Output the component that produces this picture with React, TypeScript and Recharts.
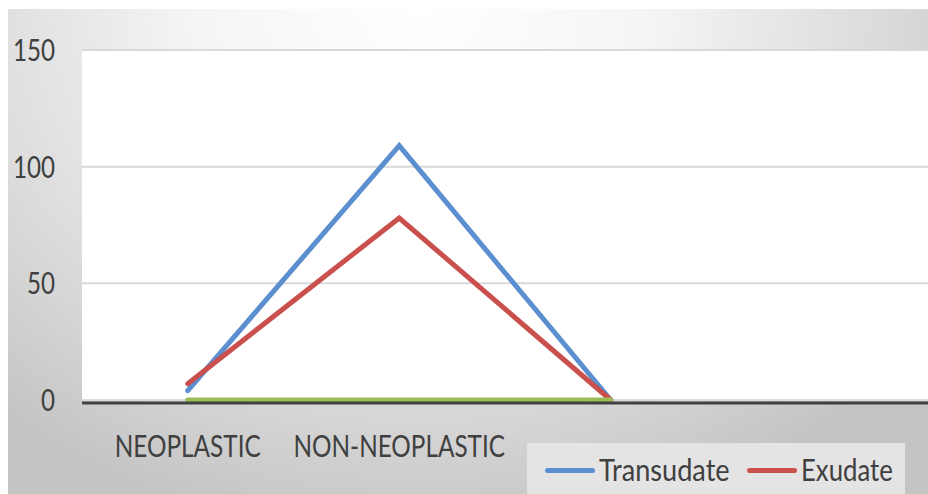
import { LineChart, Line, XAxis, YAxis, CartesianGrid, Legend } from 'recharts';

const categories = ['NEOPLASTIC', 'NON-NEOPLASTIC', ' ', '  '];
const transudate = [4, 109, 0, null];
const exudate = [7, 78, 0, null];
const series3 = [0, 0, 0, null];
const yTicks = [0, 50, 100, 150];

const data = categories.map((name, i) => ({
  name,
  Transudate: transudate[i],
  Exudate: exudate[i],
  Series3: series3[i],
}));

const FONT = 'Lato, "Open Sans", sans-serif';
const TEXT = '#404040';

const YTick = ({ x, y, payload }: any) => (
  <g transform={`translate(${x},${y})`}>
    <text
      transform="scale(0.78,1)"
      textAnchor="end"
      dy={11}
      fontSize={31}
      fontFamily={FONT}
      fill={TEXT}
    >
      {payload.value}
    </text>
  </g>
);

const XTick = ({ x, y, payload }: any) => (
  <g transform={`translate(${x},${y})`}>
    <text
      transform="scale(0.785,1)"
      textAnchor="middle"
      dy={49}
      fontSize={31}
      fontFamily={FONT}
      fill={TEXT}
    >
      {payload.value}
    </text>
  </g>
);

const legendItems = [
  { name: 'Transudate', color: '#5b8fcf', left: 18, scale: 0.875 },
  { name: 'Exudate', color: '#c9504d', left: 220, scale: 0.83 },
];

const LegendBox = () => (
  <div style={{ position: 'relative', width: 378, height: 51, background: '#e4e4e4' }}>
    {legendItems.map((item) => (
      <div key={item.name}>
        <div
          style={{
            position: 'absolute',
            left: item.left,
            top: 25,
            width: 50,
            height: 5,
            borderRadius: 3,
            background: item.color,
          }}
        />
        <div
          style={{
            position: 'absolute',
            left: item.left + 54,
            top: 7,
            fontFamily: FONT,
            fontSize: 31,
            lineHeight: '38px',
            color: TEXT,
            whiteSpace: 'nowrap',
            transform: `scale(${item.scale},1)`,
            transformOrigin: 'left center',
          }}
        >
          {item.name}
        </div>
      </div>
    ))}
  </div>
);

export default function App() {
  return (
    <div style={{ position: 'absolute', left: 0, top: 0, width: 928, height: 494, background: '#fff', overflow: 'hidden' }}>
      <div
        style={{
          position: 'absolute',
          left: 8,
          top: 9,
          width: 920,
          height: 485,
          background: 'radial-gradient(ellipse 70% 110% at 45% 0%, #ffffff 0%, #f5f5f5 35%, #dcdcdc 70%, #c4c4c4 100%)',
        }}
      />
      <div style={{ position: 'absolute', left: 0, top: 0 }}>
        <LineChart width={928} height={494} data={data} margin={{ top: 50, right: 0, bottom: 64, left: 0 }}>
          <CartesianGrid horizontal vertical={false} fill="#ffffff" stroke="#d9d9d9" strokeWidth={2} />
          <XAxis
            dataKey="name"
            padding={{ left: 105.75, right: 105.75 }}
            tickLine={false}
            axisLine={{ stroke: '#404040', strokeWidth: 3, transform: 'translate(0,3)' }}
            tick={<XTick />}
            interval={0}
            height={30}
          />
          <YAxis
            domain={[0, 150]}
            ticks={yTicks}
            width={82}
            axisLine={false}
            tickLine={false}
            tickSize={0}
            tickMargin={27}
            tick={<YTick />}
          />
          <Legend
            layout="horizontal"
            verticalAlign="middle"
            align="center"
            content={<LegendBox />}
            wrapperStyle={{ left: 527, top: 443, width: 378, height: 51 }}
          />
          <Line
            dataKey="Transudate"
            stroke="#5b8fcf"
            strokeWidth={5}
            strokeLinecap="round"
            dot={false}
            isAnimationActive={false}
          />
          <Line
            dataKey="Exudate"
            stroke="#c9504d"
            strokeWidth={5}
            strokeLinecap="round"
            dot={false}
            isAnimationActive={false}
          />
          <Line
            dataKey="Series3"
            stroke="#9bbb59"
            strokeWidth={5}
            strokeLinecap="round"
            dot={false}
            legendType="none"
            isAnimationActive={false}
          />
        </LineChart>
      </div>
    </div>
  );
}
